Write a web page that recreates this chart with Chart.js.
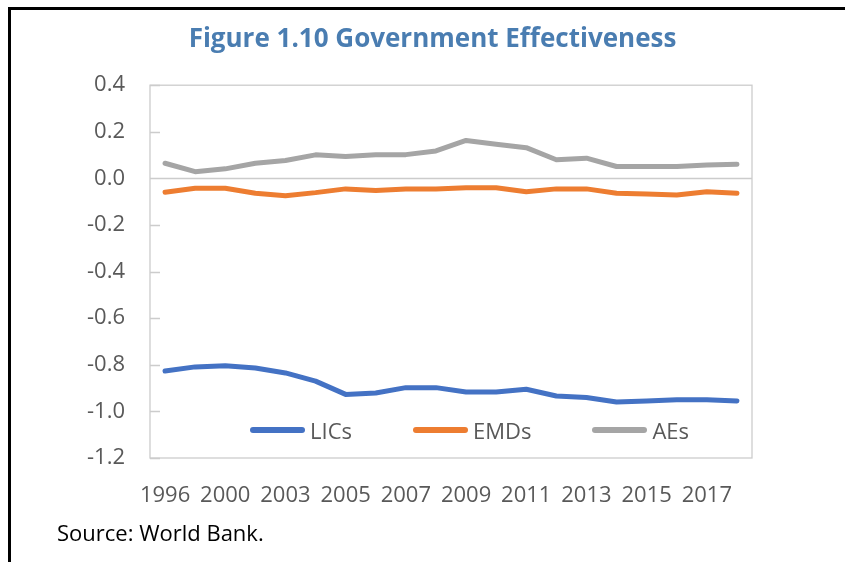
<!DOCTYPE html>
<html>
<head>
<meta charset="utf-8">
<script src="https://cdn.jsdelivr.net/npm/chart.js@4.4.1/dist/chart.umd.min.js"></script>
<style>
  body{margin:0;background:#fff;font-family:"Open Sans",sans-serif;}
  #wrap{position:relative;width:845px;height:562px;overflow:hidden;}
  #myChart{position:absolute;left:0;top:0;}
  #frame{position:absolute;left:8px;top:7px;right:-10px;bottom:-10px;border-top:3px solid #000;border-left:3px solid #000;}
  #legend{position:absolute;left:250px;top:415px;display:flex;align-items:center;gap:61px;}
  .item{display:flex;align-items:center;font-size:22px;color:#595959;}
  .swatch{width:55px;height:6px;border-radius:3px;margin-right:5px;}
  #source{position:absolute;left:57px;top:517px;font-size:22px;color:#000;}
</style>
</head>
<body>
<div id="wrap">
  <canvas id="myChart" width="845" height="562"></canvas>
  <div id="frame"></div>
  <div id="legend"></div>
  <div id="source">Source: World Bank.</div>
</div>
<script>
var years=['1996','1998','2000','2002','2003','2004','2005','2006','2007','2008','2009','2010','2011','2012','2013','2014','2015','2016','2017','2018'];
var lics=[-0.827,-0.809,-0.804,-0.814,-0.835,-0.870,-0.927,-0.921,-0.898,-0.898,-0.917,-0.917,-0.905,-0.934,-0.940,-0.960,-0.955,-0.950,-0.950,-0.955];
var emds=[-0.059,-0.042,-0.042,-0.064,-0.074,-0.061,-0.045,-0.052,-0.045,-0.045,-0.040,-0.040,-0.057,-0.045,-0.045,-0.064,-0.067,-0.071,-0.057,-0.064];
var aes=[0.065,0.029,0.041,0.065,0.077,0.101,0.094,0.101,0.102,0.118,0.163,0.147,0.132,0.080,0.087,0.051,0.051,0.051,0.057,0.061];
var seriesNames=['LICs','EMDs','AEs'];
var seriesColors=['#4472c4','#ed7d31','#a5a5a5'];

// plot area box, zero line and short inward ticks on the value axis
var plotFrame={
  id:'plotFrame',
  beforeDatasetsDraw:function(chart){
    var ctx=chart.ctx, a=chart.chartArea, y=chart.scales.y;
    ctx.save();
    ctx.strokeStyle='#cccccc';
    ctx.lineWidth=1.3;
    ctx.strokeRect(a.left,a.top,a.right-a.left,a.bottom-a.top);
    var y0=Math.round(y.getPixelForValue(0))+0.5;
    ctx.beginPath();
    ctx.moveTo(a.left,y0);ctx.lineTo(a.right,y0);
    y.ticks.forEach(function(t){
      var py=Math.round(y.getPixelForValue(t.value))+0.5;
      ctx.moveTo(a.left,py);ctx.lineTo(a.left+10,py);
    });
    ctx.stroke();
    ctx.restore();
  }
};

var data=[lics,emds,aes];
var datasets=[];
for(i=0;i<data.length;i++){
  datasets.push({
    label:seriesNames[i],
    data:data[i],
    borderColor:seriesColors[i],
    backgroundColor:seriesColors[i],
    borderWidth:5,
    borderCapStyle:'round',
    borderJoinStyle:'round',
    pointRadius:0,
    tension:0,
    fill:false
  });
}

var ctx=document.getElementById('myChart');
var myChart=new Chart(ctx,{
  type:'line',
  data:{labels:years,datasets:datasets},
  plugins:[plotFrame],
  options:{
    responsive:false,
    animation:false,
    layout:{padding:{left:20,right:0,top:0,bottom:0}},
    plugins:{
      legend:{display:false},
      tooltip:{enabled:false},
      title:{
        display:true,
        text:'Figure 1.10 Government Effectiveness',
        color:'#4a7db1',
        font:{family:'"Open Sans"',size:26,weight:'bold'},
        padding:{top:24,bottom:30}
      }
    },
    scales:{
      x:{
        offset:true,
        grid:{display:false},
        border:{display:false},
        afterFit:function(s){s.height=104;},
        ticks:{
          autoSkip:false,
          maxRotation:0,
          padding:17,
          color:'#595959',
          font:{family:'"Open Sans"',size:22},
          callback:function(v,i){return i%2===0?years[i]:'';}
        }
      },
      y:{
        min:-1.2,
        max:0.4,
        grid:{display:false},
        border:{display:false},
        afterFit:function(s){s.width=130;},
        ticks:{
          stepSize:0.2,
          padding:17,
          color:'#595959',
          font:{family:'"Open Sans"',size:22},
          callback:function(v){return Math.abs(v)<1e-9?'0.0':v.toFixed(1);}
        }
      },
      // empty right-hand axis keeps blank room beside the plot
      yRight:{
        position:'right',
        min:-1.2,
        max:0.4,
        grid:{display:false},
        border:{display:false},
        ticks:{display:false},
        afterFit:function(s){s.width=93;}
      }
    }
  }
});

// legend sits inside the plot area, below the lines
var legend=document.getElementById('legend');
myChart.data.datasets.forEach(function(d){
  var item=document.createElement('div');
  item.className='item';
  var sw=document.createElement('span');
  sw.className='swatch';
  sw.style.background=d.borderColor;
  item.appendChild(sw);
  item.appendChild(document.createTextNode(d.label));
  legend.appendChild(item);
});
</script>
</body>
</html>
